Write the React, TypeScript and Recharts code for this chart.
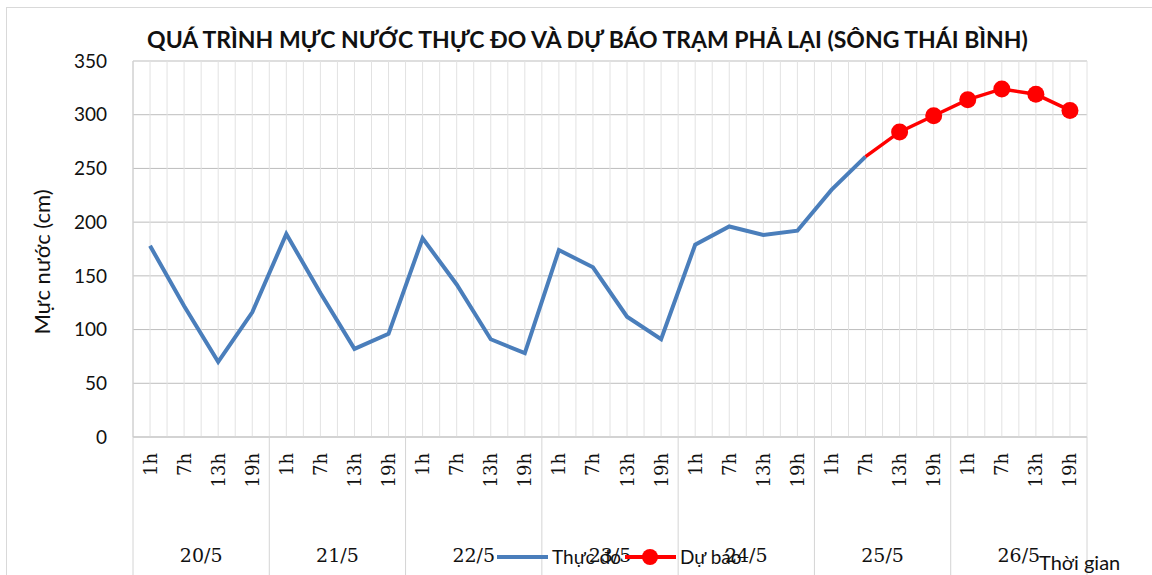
import { CartesianGrid, Legend, Line, LineChart, XAxis, YAxis } from "recharts"

const hours = ["1h", "7h", "13h", "19h"]
const days = ["20/5", "21/5", "22/5", "23/5", "24/5", "25/5", "26/5"]

// water level (cm), one value per hour slot
const observed = [178, 122, 70, 116, 189, 134, 82, 96, 185, 142, 91, 78, 174, 158, 112, 91, 179, 196, 188, 192, 230, 261]
// forecast starts from the last observed value
const forecast = [261, 284, 299, 314, 324, 319, 304]

const yTicks = [0, 50, 100, 150, 200, 250, 300, 350]

const slots = days.length * hours.length
const forecastStart = observed.length - 1

const data = Array.from({ length: slots }, (_, i) => ({
  slot: `${days[Math.floor(i / hours.length)]} ${hours[i % hours.length]}`,
  hour: hours[i % hours.length],
  pos: i + 0.5,
  observed: i < observed.length ? observed[i] : null,
  forecast: i >= forecastStart ? forecast[i - forecastStart] : null,
}))

// day axis: boundaries every 4 slots, labels in the middle
const dayTicks = Array.from({ length: days.length * 2 + 1 }, (_, i) => i * 2)

const serif = "'DejaVu Serif', serif"
const sans = "Lato, 'Open Sans', sans-serif"

function HourTick(props: any) {
  const { x, y, payload } = props
  return (
    <g transform={`translate(${x},${y + 16})`}>
      <text transform="rotate(-90)" textAnchor="end" dy="0.36em" fontSize={18} fontFamily={serif} fill="#111">
        {data[payload.index]?.hour ?? payload.value}
      </text>
    </g>
  )
}

function DayTick(props: any) {
  const { x, y, payload } = props
  const v = payload.value
  if (v % 4 === 0) {
    return <line x1={x} x2={x} y1={y - 80} y2={y + 60} stroke="#d4d4d4" />
  }
  return (
    <text x={x} y={y + 45} textAnchor="middle" fontSize={19} fontFamily={serif} fill="#111">
      {days[(v - 2) / 4]}
    </text>
  )
}

function renderDot(props: any) {
  const { cx, cy, index } = props
  if (index <= forecastStart || cy == null) return <g key={`d${index}`} />
  return <circle key={`d${index}`} cx={cx} cy={cy} r={8.5} fill="#ff0000" />
}

function LegendBox() {
  return (
    <svg width={260} height={30} style={{ fontFamily: sans }}>
      <line x1={2} x2={53} y1={14} y2={14} stroke="#4a7ebb" strokeWidth={4} />
      <text x={57} y={21} fontSize={19} fill="#111">Thực đo</text>
      <line x1={130} x2={181} y1={14} y2={14} stroke="#ff0000" strokeWidth={4} />
      <circle cx={155} cy={14} r={8} fill="#ff0000" />
      <text x={185} y={21} fontSize={19} fill="#111">Dự báo</text>
    </svg>
  )
}

export default function App() {
  return (
    <div style={{ position: "absolute", left: 0, top: 0, width: 1152, height: 575, background: "#fff", overflow: "hidden" }}>
      <div
        style={{
          position: "absolute",
          left: 6,
          top: 7,
          width: 1200,
          height: 600,
          borderLeft: "1px solid #d9d9d9",
          borderTop: "1px solid #d9d9d9",
        }}
      />
      <div
        style={{
          position: "absolute",
          left: 0,
          top: 25,
          width: 1175,
          textAlign: "center",
          fontFamily: sans,
          fontWeight: 700,
          fontSize: 23,
          color: "#111",
          whiteSpace: "nowrap",
        }}
      >
        QUÁ TRÌNH MỰC NƯỚC THỰC ĐO VÀ DỰ BÁO TRẠM PHẢ LẠI (SÔNG THÁI BÌNH)
      </div>
      <LineChart
        width={1152}
        height={575}
        data={data}
        margin={{ top: 61, right: 65, bottom: 0, left: 0 }}
        style={{ position: "absolute", left: 0, top: 0 }}
      >
        <CartesianGrid xAxisId={0} vertical={false} stroke="#bdbdbd" />
        <CartesianGrid
          xAxisId={0}
          horizontal={false}
          stroke="#e2e2e2"
          verticalCoordinatesGenerator={({ offset }: any) =>
            Array.from({ length: slots * 2 + 1 }, (_, i) => offset.left + (i * offset.width) / (slots * 2))
          }
        />
        <XAxis
          xAxisId={0}
          dataKey="slot"
          scale="band"
          height={80}
          interval={0}
          tickLine={false}
          tickSize={0}
          tickMargin={0}
          axisLine={{ stroke: "#c8c8c8" }}
          tick={<HourTick />}
        />
        <XAxis
          xAxisId={1}
          dataKey="pos"
          type="number"
          domain={[0, slots]}
          allowDataOverflow
          ticks={dayTicks}
          interval={0}
          height={58}
          axisLine={false}
          tickLine={false}
          tickSize={0}
          tickMargin={0}
          tick={<DayTick />}
          label={{
            value: "Thời gian",
            position: "right",
            offset: 0,
            dx: -48,
            dy: 17,
            fontSize: 20,
            fontFamily: sans,
            fill: "#111",
          }}
        />
        <YAxis
          width={133}
          domain={[0, 350]}
          ticks={yTicks}
          interval={0}
          tickLine={false}
          axisLine={{ stroke: "#c8c8c8" }}
          tickMargin={20}
          tick={{ fontSize: 19, fontFamily: sans, fill: "#111" }}
          label={{
            value: "Mực nước (cm)",
            angle: -90,
            position: "insideLeft",
            offset: 0,
            content: ({ viewBox }: any) => (
              <text
                transform={`translate(${viewBox.x + 50},${viewBox.y + viewBox.height / 2 + 13}) rotate(-90)`}
                textAnchor="middle"
                fontSize={22}
                fontFamily={sans}
                fill="#111"
              >
                Mực nước (cm)
              </text>
            ),
          }}
        />
        <Legend
          layout="horizontal"
          verticalAlign="middle"
          align="center"
          wrapperStyle={{ left: 495, top: 543, width: 260 }}
          content={<LegendBox />}
        />
        <Line
          xAxisId={0}
          name="Thực đo"
          dataKey="observed"
          stroke="#4a7ebb"
          strokeWidth={4}
          dot={false}
          connectNulls={false}
          isAnimationActive={false}
        />
        <Line
          xAxisId={0}
          name="Dự báo"
          dataKey="forecast"
          stroke="#ff0000"
          strokeWidth={3.5}
          dot={renderDot}
          activeDot={false}
          isAnimationActive={false}
        />
      </LineChart>
    </div>
  )
}
